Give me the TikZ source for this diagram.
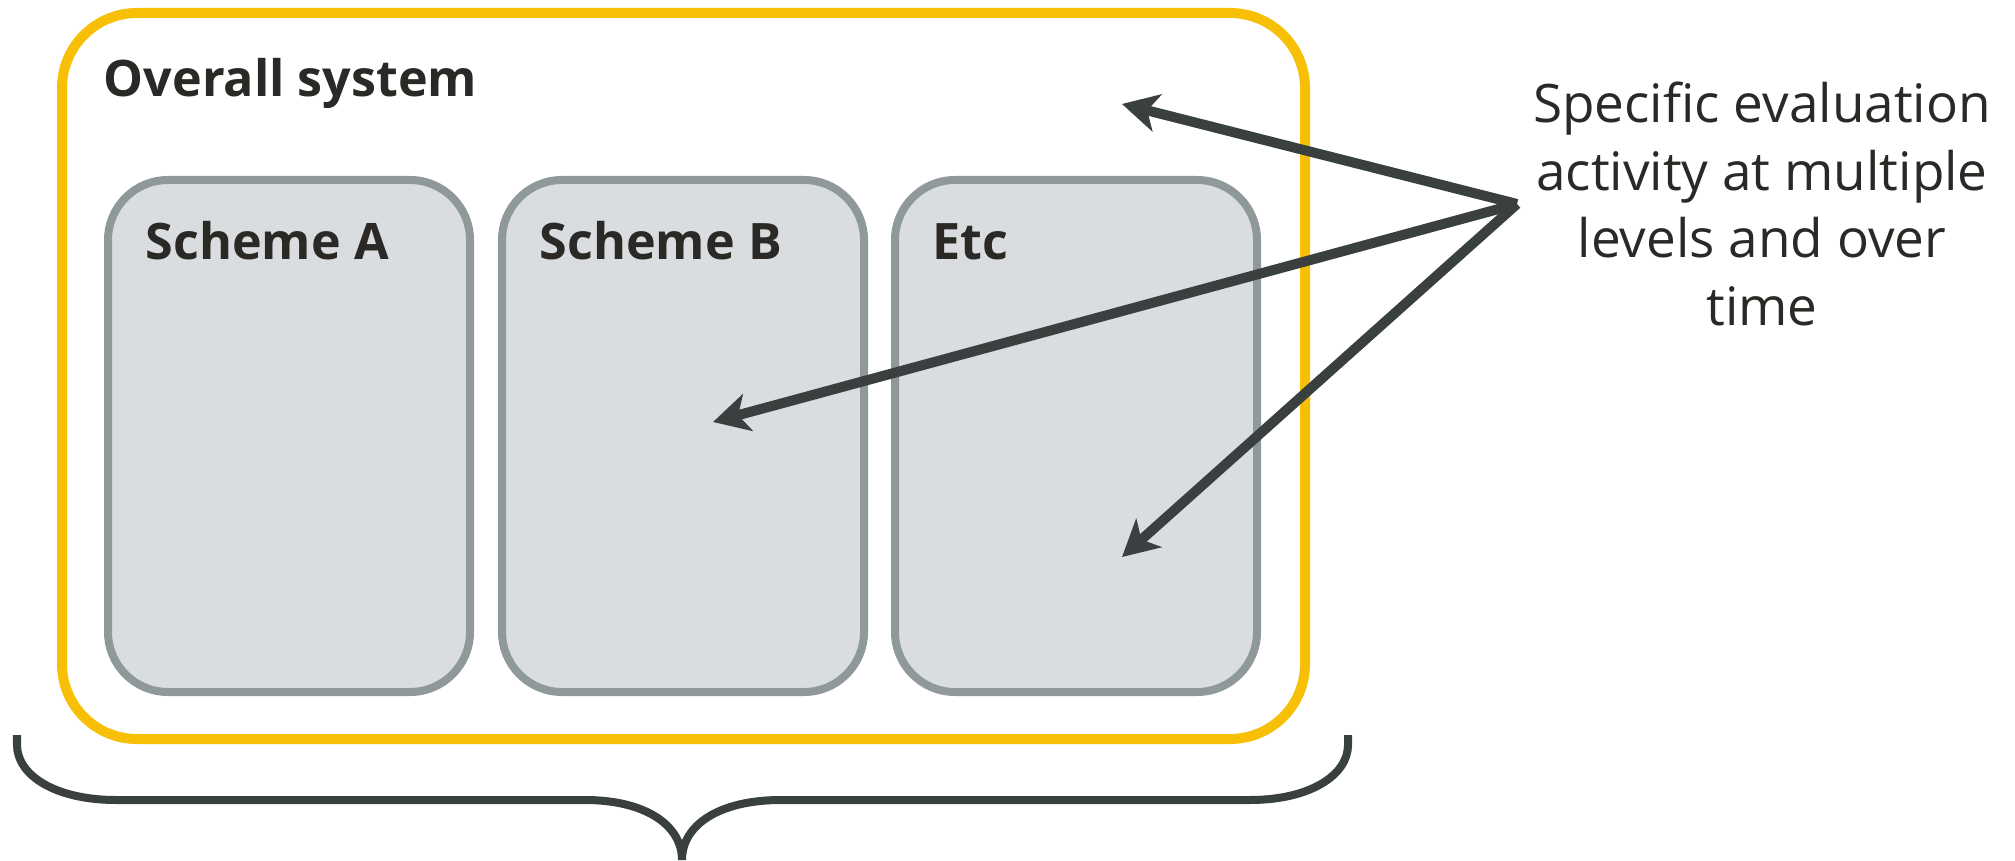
\documentclass[tikz,border=0pt]{standalone}
\usepackage{fontspec}
\setmainfont{Open Sans}
\usepackage{tikz}
\usetikzlibrary{arrows.meta}
\usetikzlibrary{positioning}
\definecolor{sysyellow}{HTML}{F7BF05}
\definecolor{schemeline}{HTML}{8F999A}
\definecolor{schemefill}{HTML}{D9DDDF}
\definecolor{darkline}{HTML}{3A3F3F}
\definecolor{darktext}{HTML}{2B2926}

\begin{document}
\begin{tikzpicture}[
    scheme/.style={draw=schemeline, fill=schemefill, line width=0.08cm, rounded corners=0.6cm,
        minimum width=3.62cm, minimum height=5.12cm, inner sep=0pt},
    title/.style={anchor=base west, font=\bfseries\fontsize{14.3}{17}\selectfont, text=darktext, inner sep=0pt},
    pointer/.style={draw=darkline, line width=0.1cm, -{Stealth[length=0.36cm, width=0.38cm, inset=0.1cm]}}
    ]
            \useasboundingbox (0,0) rectangle (20.15,8.6);
            \node[draw=sysyellow, line width=0.1cm, rounded corners=0.75cm, minimum width=12.43cm,
                minimum height=7.26cm, inner sep=0pt] (system) at (6.835,4.84) {};
            \node[title] (systemlabel) at (1.03,7.63) {Overall system};
            \node[scheme] (schemeA) at (2.89,4.24) {};
            \node[scheme] (schemeB) at (6.83,4.24) {};
            \node[scheme] (etc) at (10.76,4.24) {};
            \node[title] (labelA) at (1.45,6.0) {Scheme A};
            \node[title] (labelB) at (5.39,6.0) {Scheme B};
            \node[title] (labelC) at (9.32,6.0) {Etc};
            \node[align=center, text=darktext, font=\fontsize{15.1}{19.2}\selectfont, inner sep=0pt]
                (activity) at (17.62,6.56) {Specific evaluation\\activity at multiple\\levels and over\\time};
            \coordinate (source) at (15.17,6.56);
            \coordinate (toSystem) at (11.22,7.56);
            \coordinate (toScheme) at (7.13,4.38);
            \coordinate (toEtc) at (11.22,3.03);
            \draw[pointer] (source) -- (toSystem);
            \draw[pointer] (source) -- (toScheme);
            \draw[pointer] (source) -- (toEtc);
            \draw[darkline, line width=0.08cm] (0.17,1.25) -- (0.17,1.15)
                .. controls (0.17,0.85) and (0.55,0.6) .. (1.16,0.6) -- (5.85,0.6)
                .. controls (6.45,0.6) and (6.82,0.35) .. (6.82,0)
                .. controls (6.82,0.35) and (7.19,0.6) .. (7.81,0.6) -- (12.5,0.6)
                .. controls (13.1,0.6) and (13.48,0.85) .. (13.48,1.15) -- (13.48,1.25);
        \end{tikzpicture}
\end{document}
